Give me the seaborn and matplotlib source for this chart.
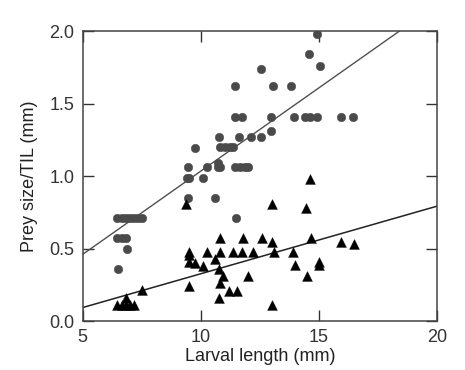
import numpy as np
import pandas as pd
import matplotlib
matplotlib.use("Agg")
import matplotlib.pyplot as plt
import seaborn as sns

# Circles (upper group)
circ_x = [14.92, 14.56, 15.03, 12.54, 11.44, 13.04, 13.83,
          11.44, 11.75, 12.96, 13.93, 14.39, 14.60, 14.93, 15.92, 16.44,
          12.96, 10.76, 11.63, 12.11, 12.54, 9.77,
          10.83, 11.01, 11.23, 11.38,
          9.46, 10.27, 10.73, 10.83, 11.44, 11.65, 11.86, 12.00, 10.73,
          9.41, 9.49, 10.07, 9.46, 10.58, 11.48,
          6.46, 6.65, 6.83, 7.01, 7.18, 7.35, 7.49,
          6.46, 6.65, 6.82, 6.86, 6.48]
circ_y = [1.98, 1.84, 1.76, 1.74, 1.62, 1.62, 1.62,
          1.41, 1.41, 1.41, 1.41, 1.41, 1.41, 1.41, 1.41, 1.41,
          1.31, 1.27, 1.27, 1.27, 1.27, 1.195,
          1.20, 1.20, 1.20, 1.20,
          1.06, 1.06, 1.06, 1.06, 1.06, 1.06, 1.06, 1.06, 1.09,
          0.99, 0.99, 0.99, 0.85, 0.85, 0.71,
          0.71, 0.71, 0.71, 0.71, 0.71, 0.71, 0.71,
          0.57, 0.57, 0.57, 0.50, 0.36]

# Triangles (lower group)
tri_x = [14.62, 9.39, 12.99, 14.46,
         10.79, 11.80, 12.59, 14.65, 12.99, 15.94, 16.48,
         9.49, 10.28, 10.79, 11.38, 11.72, 12.20, 13.10, 13.89, 9.49,
         9.49, 9.77, 10.10, 10.59, 13.97, 15.00, 15.00,
         10.76, 10.92, 12.00, 14.49, 10.83, 9.49, 7.52, 11.18, 11.52,
         10.76, 6.82, 6.46, 6.65, 6.82, 7.00, 7.18, 13.01]
tri_y = [0.977, 0.805, 0.805, 0.778,
         0.576, 0.576, 0.576, 0.576, 0.546, 0.546, 0.534,
         0.477, 0.477, 0.477, 0.477, 0.477, 0.477, 0.477, 0.477, 0.455,
         0.41, 0.40, 0.38, 0.427, 0.39, 0.405, 0.39,
         0.358, 0.31, 0.31, 0.31, 0.266, 0.243, 0.216, 0.21, 0.21,
         0.158, 0.163, 0.112, 0.112, 0.112, 0.112, 0.112, 0.11]

# Fitted lines: intercept, slope
upper_fit = (-0.113, 0.1148)
lower_fit = (-0.139, 0.0466)

df = pd.DataFrame({
    "x": circ_x + tri_x,
    "y": circ_y + tri_y,
    "grp": ["c"] * len(circ_x) + ["t"] * len(tri_x),
})

sns.set_style("ticks")
plt.rcParams["font.family"] = ["Liberation Sans", "DejaVu Sans"]

fig = plt.figure(figsize=(4.65, 3.7), dpi=100)
ax = fig.add_axes([0.178, 0.132, 0.762, 0.784])

sns.scatterplot(data=df[df.grp == "c"], x="x", y="y", marker="o", s=38,
                color="#4a4a4a", edgecolor="#4a4a4a", linewidth=0.3, ax=ax, legend=False, zorder=3)
sns.scatterplot(data=df[df.grp == "t"], x="x", y="y", marker="^", s=50,
                color="black", edgecolor="black", linewidth=0.3, ax=ax, legend=False, zorder=3)

xs = np.array([5, 20])
ax.plot(xs, upper_fit[0] + upper_fit[1] * xs, color="#505050", lw=1.0, zorder=2)
ax.plot(xs, lower_fit[0] + lower_fit[1] * xs, color="#222222", lw=1.1, zorder=2)

ax.set_xlim(5, 20)
ax.set_ylim(0, 2.0)
ax.set_xticks([5, 10, 15, 20])
ax.set_yticks([0, 0.5, 1.0, 1.5, 2.0])
ax.set_yticklabels(["0.0", "0.5", "1.0", "1.5", "2.0"])
ax.tick_params(direction="in", length=8, width=1.0, top=True, right=True,
               labelsize=13, colors="#333333", pad=6)
for sp in ax.spines.values():
    sp.set_linewidth(1.1)
    sp.set_color("#444444")
ax.set_xlabel("Larval length (mm)", fontsize=13, color="#222222", labelpad=1)
ax.set_ylabel("Prey size/TIL (mm)", fontsize=13, color="#222222", labelpad=8)

fig.savefig("out.png", dpi=100, facecolor="white")
